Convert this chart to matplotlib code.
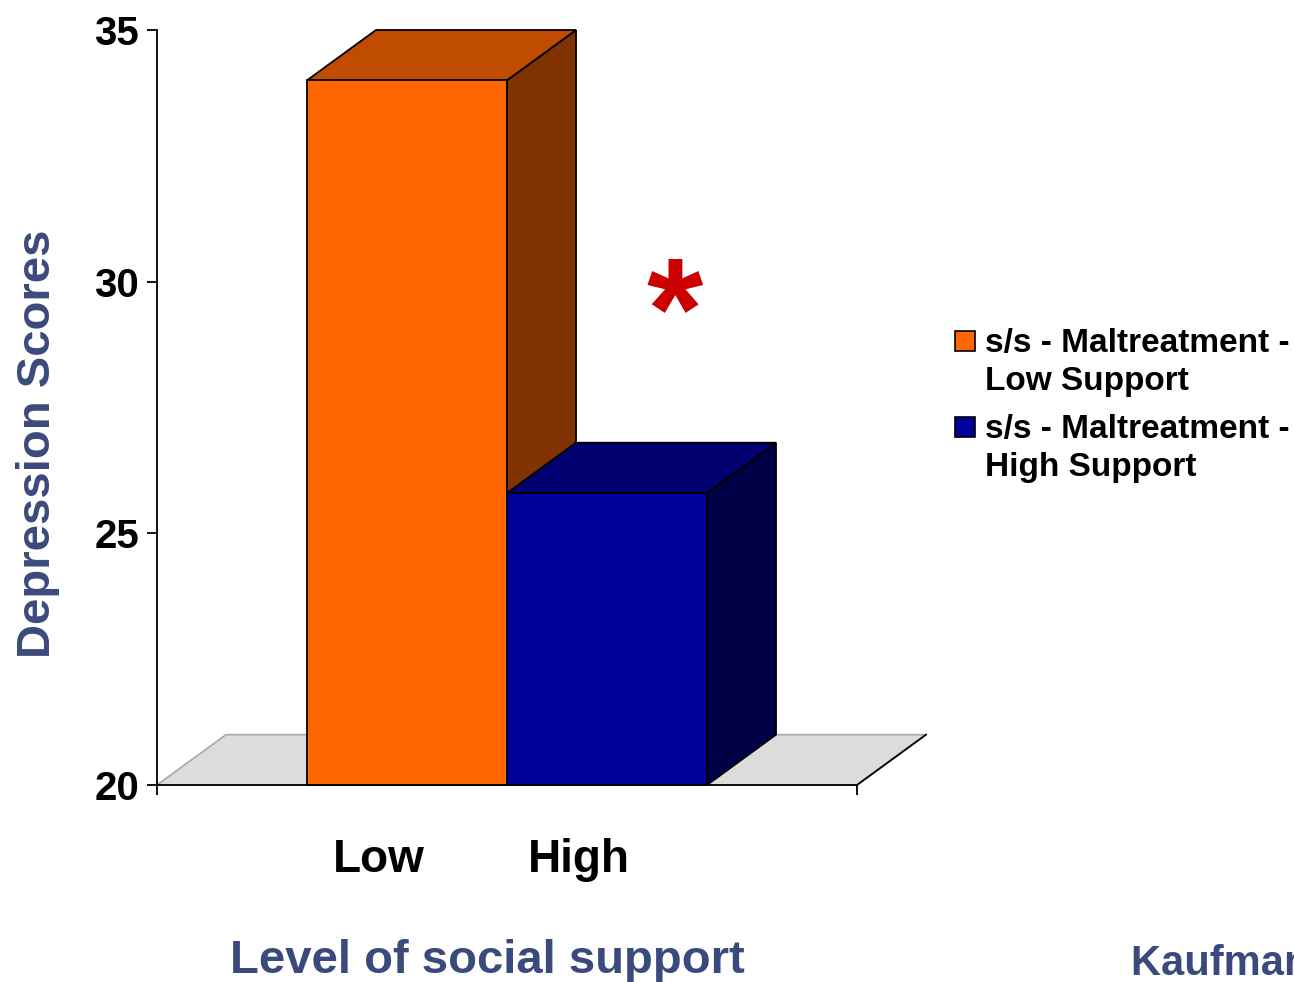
import numpy as np
import matplotlib.pyplot as plt
from matplotlib.patches import Polygon, Rectangle

# Datos
groups = ['Low', 'High']
scores = [34.0, 25.8]
series = ['s/s - Maltreatment -\nLow Support', 's/s - Maltreatment -\nHigh Support']
front_colors = ['#FF6600', '#000099']
top_colors = ['#BF4C00', '#000070']
side_colors = ['#803300', '#000046']
y_ticks = [20, 25, 30, 35]

label_color = '#3B4A7C'
plt.rcParams['font.family'] = ['Liberation Sans', 'DejaVu Sans']
plt.rcParams['font.weight'] = 'bold'

fig = plt.figure(figsize=(12.94, 9.82), dpi=100)
ax = fig.add_axes([157 / 1294, 197 / 982, 700 / 1294, 755 / 982])

x_max = 3.5
base = 20
dx, dy = 0.345, 1.0  # profundidad 3D en unidades de datos
width = 1.0
lefts = 0.75 + np.arange(len(scores)) * width

ax.set_xlim(0, x_max)
ax.set_ylim(base, 35)

# Piso
floor = Polygon([(0, base), (x_max, base), (x_max + dx, base + dy), (dx, base + dy)],
                closed=True, facecolor='#DCDCDC', edgecolor='#A8A8A8', lw=1.2, clip_on=False, zorder=1)
ax.add_patch(floor)
ax.plot([x_max, x_max + dx], [base, base + dy], color='black', lw=1.3, clip_on=False, zorder=1.1)

# Barras 3D
for x0, h, fc, tc, sc in zip(lefts, scores, front_colors, top_colors, side_colors):
    x1 = x0 + width
    side = Polygon([(x1, base), (x1 + dx, base + dy), (x1 + dx, h + dy), (x1, h)],
                   closed=True, facecolor=sc, edgecolor='black', lw=1.3, clip_on=False, zorder=2)
    top = Polygon([(x0, h), (x1, h), (x1 + dx, h + dy), (x0 + dx, h + dy)],
                  closed=True, facecolor=tc, edgecolor='black', lw=1.3, clip_on=False, zorder=2)
    front = Rectangle((x0, base), width, h - base, facecolor=fc, edgecolor='black',
                      lw=1.3, clip_on=False, zorder=2)
    ax.add_patch(side)
    ax.add_patch(top)
    ax.add_patch(front)

# Asterisco de significancia
ax.text(2.59, 28.48, '*', color='#CC0000', fontsize=104, fontweight='bold',
        ha='center', va='baseline', zorder=5)

# Ejes
ax.spines['top'].set_visible(False)
ax.spines['right'].set_visible(False)
for s in ['left', 'bottom']:
    ax.spines[s].set_linewidth(1.3)
    ax.spines[s].set_zorder(3)
ax.set_yticks(y_ticks)
ax.set_yticklabels([str(t) for t in y_ticks], fontsize=29, fontweight='bold')
ax.tick_params(axis='y', length=7, width=1.3, pad=6)
ax.set_xticks([0, x_max])
ax.set_xticklabels(['', ''])
ax.tick_params(axis='x', which='major', length=7, width=1.3)
ax.set_xticks(lefts + width / 2 - 0.14, minor=True)
ax.set_xticklabels(groups, minor=True, fontsize=33, fontweight='bold')
ax.tick_params(axis='x', which='minor', length=0, pad=38)
ax.set_facecolor('none')

# Titulos de ejes
fig.text(38 / 1294, 1 - 444 / 982, 'Depression Scores', rotation=90, color=label_color,
         fontsize=34, fontweight='bold', ha='center', va='center')
fig.text(487 / 1294, 1 - 973 / 982, 'Level of social support', color=label_color,
         fontsize=34, fontweight='bold', ha='center', va='baseline')
# En la referencia este texto queda cortado por el borde derecho
fig.text(1131 / 1294, 1 - 975 / 982, 'Kaufman et al.', color=label_color,
         fontsize=30, fontweight='bold', ha='left', va='baseline')

# Leyenda
entry_tops = [331, 417]
for top_px, name, fc in zip(entry_tops, series, front_colors):
    fig.patches.append(Rectangle((955 / 1294, 1 - (top_px + 20) / 982), 20 / 1294, 20 / 982,
                                 transform=fig.transFigure, facecolor=fc, edgecolor='black', lw=1.2))
    for i, line in enumerate(name.split('\n')):
        fig.text(985 / 1294, 1 - (top_px + 21 + i * 38) / 982, line, fontsize=24,
                 fontweight='bold', color='black', ha='left', va='baseline')

fig.savefig('out.png', dpi=100)
